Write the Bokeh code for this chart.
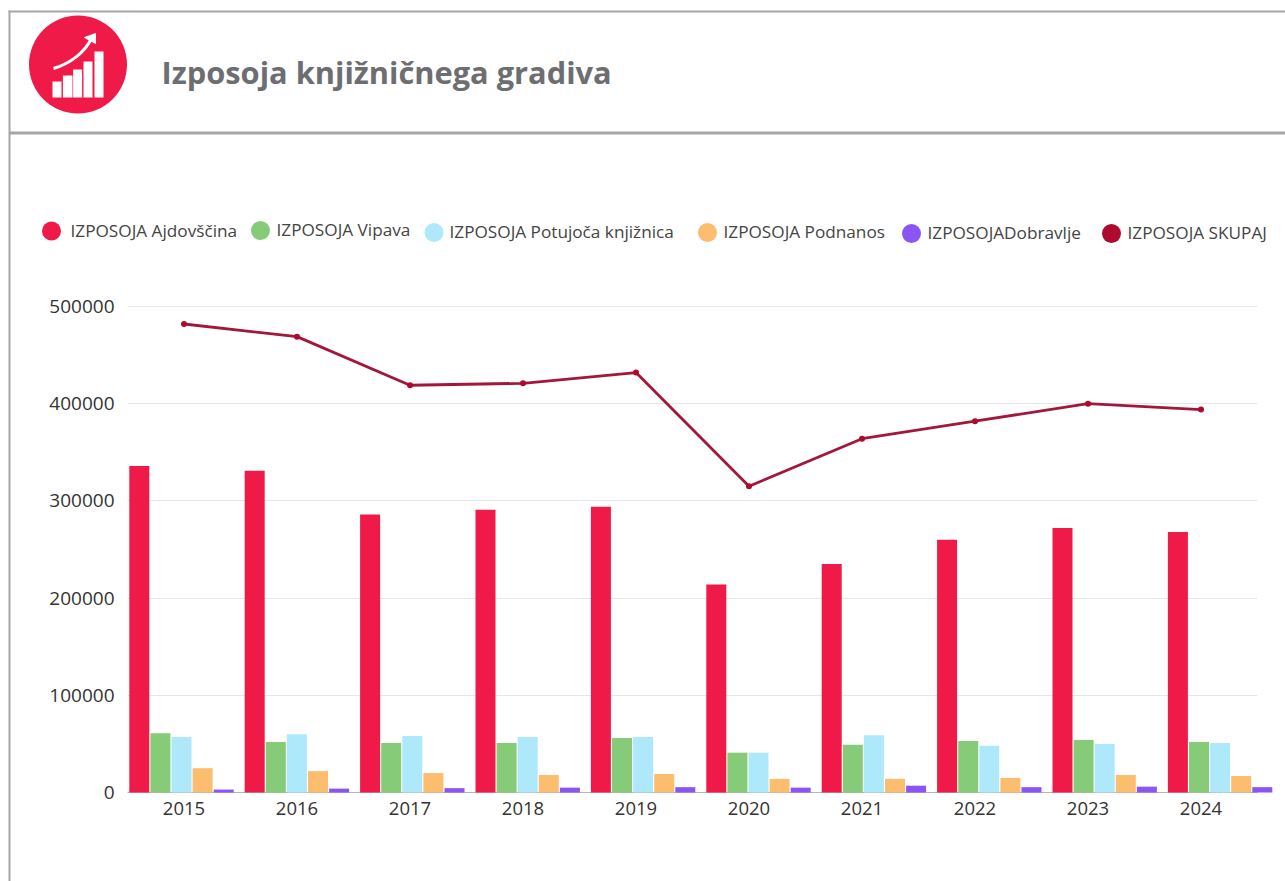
from bokeh.plotting import figure
from bokeh.embed import file_html
from bokeh.resources import INLINE
from bokeh.models import Range1d, ColumnDataSource, NumeralTickFormatter
from bokeh.core.properties import value
from bokeh.transform import dodge

years = [2015, 2016, 2017, 2018, 2019, 2020, 2021, 2022, 2023, 2024]
ajdovscina = [336000, 331000, 286000, 291000, 294000, 214000, 235000, 260000, 272000, 268000]
vipava = [61000, 52000, 51000, 51000, 56000, 41000, 49000, 53000, 54000, 52000]
potujoca = [57000, 60000, 58000, 57000, 57000, 41000, 59000, 48000, 50000, 51000]
podnanos = [25000, 22000, 20000, 18000, 19000, 14000, 14000, 15000, 18000, 17000]
dobravlje = [3000, 4000, 4500, 5000, 5500, 5000, 7000, 5500, 6000, 5500]
skupaj = [482000, 469000, 419000, 421000, 432000, 315000, 364000, 382000, 400000, 394000]
y_ticks = [0, 100000, 200000, 300000, 400000, 500000]
title_text = "Izposoja knjižničnega gradiva"
names = ["IZPOSOJA Ajdovščina", "IZPOSOJA Vipava", "IZPOSOJA Potujoča knjižnica",
         "IZPOSOJA Podnanos", "IZPOSOJADobravlje", "IZPOSOJA SKUPAJ"]
colors = ["#ef1a47", "#86cc78", "#ade9fb", "#fdbd6e", "#8b55f5", "#ad0a2e"]

FONT = "Open Sans"
L, R, T, B = 127, 1257, 296, 792      # plot frame in picture pixels
Y_TOP_PX = 306                         # where the 500000 gridline sits
W, H = 1285, 881
BAND = 115.4                           # bar groups run wider than the label bands
BAR_STEP, BAR_W = 21.1, 20.0
FIRST_CENTER = 181.0

p = figure(width=W, height=H, x_range=Range1d(years[0] - 0.5, years[-1] + 0.5),
           y_range=Range1d(0, y_ticks[-1] * (B - T) / (B - Y_TOP_PX)),
           output_backend="svg", toolbar_location=None,
           frame_width=R - L, frame_height=B - T,
           min_border_left=L, min_border_right=W - R,
           min_border_top=T, min_border_bottom=H - B)
p.outline_line_color = None
p.background_fill_color = "white"
p.border_fill_color = "white"

p.extra_x_ranges["bars"] = Range1d(years[0] - (FIRST_CENTER - L) / BAND, years[0] + (R - FIRST_CENTER) / BAND)
p.extra_x_ranges["px"] = Range1d(L, R)
p.extra_y_ranges["px"] = Range1d(B, T)

p.xgrid.visible = False
p.ygrid.ticker = y_ticks
p.ygrid.grid_line_color = "#e6e6e6"
p.ygrid.grid_line_width = 1

p.yaxis.ticker = y_ticks
p.yaxis.formatter = NumeralTickFormatter(format="0")
p.yaxis.axis_line_color = None
p.yaxis.major_tick_line_color = None
p.yaxis.minor_tick_line_color = None
p.yaxis.major_label_text_font = FONT
p.yaxis.major_label_text_font_size = "19px"
p.yaxis.major_label_text_color = "#333333"
p.yaxis.major_label_standoff = 7

p.xaxis.ticker = years
p.xaxis.formatter = NumeralTickFormatter(format="0")
p.xaxis.axis_line_color = "#b5b5b5"
p.xaxis.axis_line_width = 1
p.xaxis.major_tick_line_color = None
p.xaxis.minor_tick_line_color = None
p.xaxis.major_label_text_font = FONT
p.xaxis.major_label_text_font_size = "18.5px"
p.xaxis.major_label_text_color = "#333333"
p.xaxis.major_label_standoff = 3

src = ColumnDataSource(dict(year=years, a=ajdovscina, b=vipava, c=potujoca, d=podnanos, e=dobravlje, s=skupaj))

for i, key in enumerate(["a", "b", "c", "d", "e"]):
    src.data[key + "_mid"] = [v / 2 for v in src.data[key]]
    p.rect(x=dodge("year", (i - 2) * BAR_STEP / BAND), y=key + "_mid", height=key,
           width=BAR_W / BAND, source=src,
           x_range_name="bars", fill_color=colors[i], line_color=None, level="overlay")

p.line(x="year", y="s", source=src, line_color="#a3173a", line_width=2.8)
p.scatter(x="year", y="s", source=src, size=6, fill_color=colors[5], line_color=None)

# ---- page furniture, placed in picture pixels
px = dict(x_range_name="px", y_range_name="px", level="overlay")
BORDER = "#a6a6a6"
p.segment(x0=[8, 9], y0=[11, 10], x1=[W, 9], y1=[11, H], line_color=BORDER, line_width=2, **px)
p.segment(x0=[9], y0=[132.5], x1=[W], y1=[132.5], line_color=BORDER, line_width=3, **px)

p.text(x=[161], y=[71], text=[title_text], text_font=value(FONT), text_font_style="bold",
       text_font_size="30.8px", text_color="#6d6e71", text_baseline="middle", **px)

# icon
p.ellipse(x=[77.5], y=[64], width=98, height=98, fill_color=colors[0], line_color=None, **px)
p.quad(left=[52, 62.4, 72.6, 83, 94], right=[61, 72, 81.6, 92, 103],
       top=[81, 75, 69, 61, 51], bottom=[97] * 5, fill_color="white", line_color=None, **px)
p.bezier(x0=[53], y0=[68], x1=[91], y1=[38], cx0=[70], cy0=[63], cx1=[84], cy1=[52],
         line_color="white", line_width=3, **px)
p.patch(x=[95, 84, 95], y=[33, 37, 43], fill_color="white", line_color="white", line_width=1, **px)

# legend
marker_x = [51, 260, 433.5, 707, 911, 1111]
marker_y = [230.5, 230, 232, 232, 233, 233]
label_x = [70, 276, 449, 723, 927, 1127]
label_y = [229.5, 229, 230.5, 231, 232, 232]
p.ellipse(x=marker_x, y=marker_y, width=19, height=19, fill_color=colors, line_color=None, **px)
p.text(x=label_x, y=label_y, text=names, text_font=value(FONT), text_font_size="17.2px",
       text_color="#444444", text_baseline="middle", **px)

open("out.html", "w").write(file_html(p, INLINE))
